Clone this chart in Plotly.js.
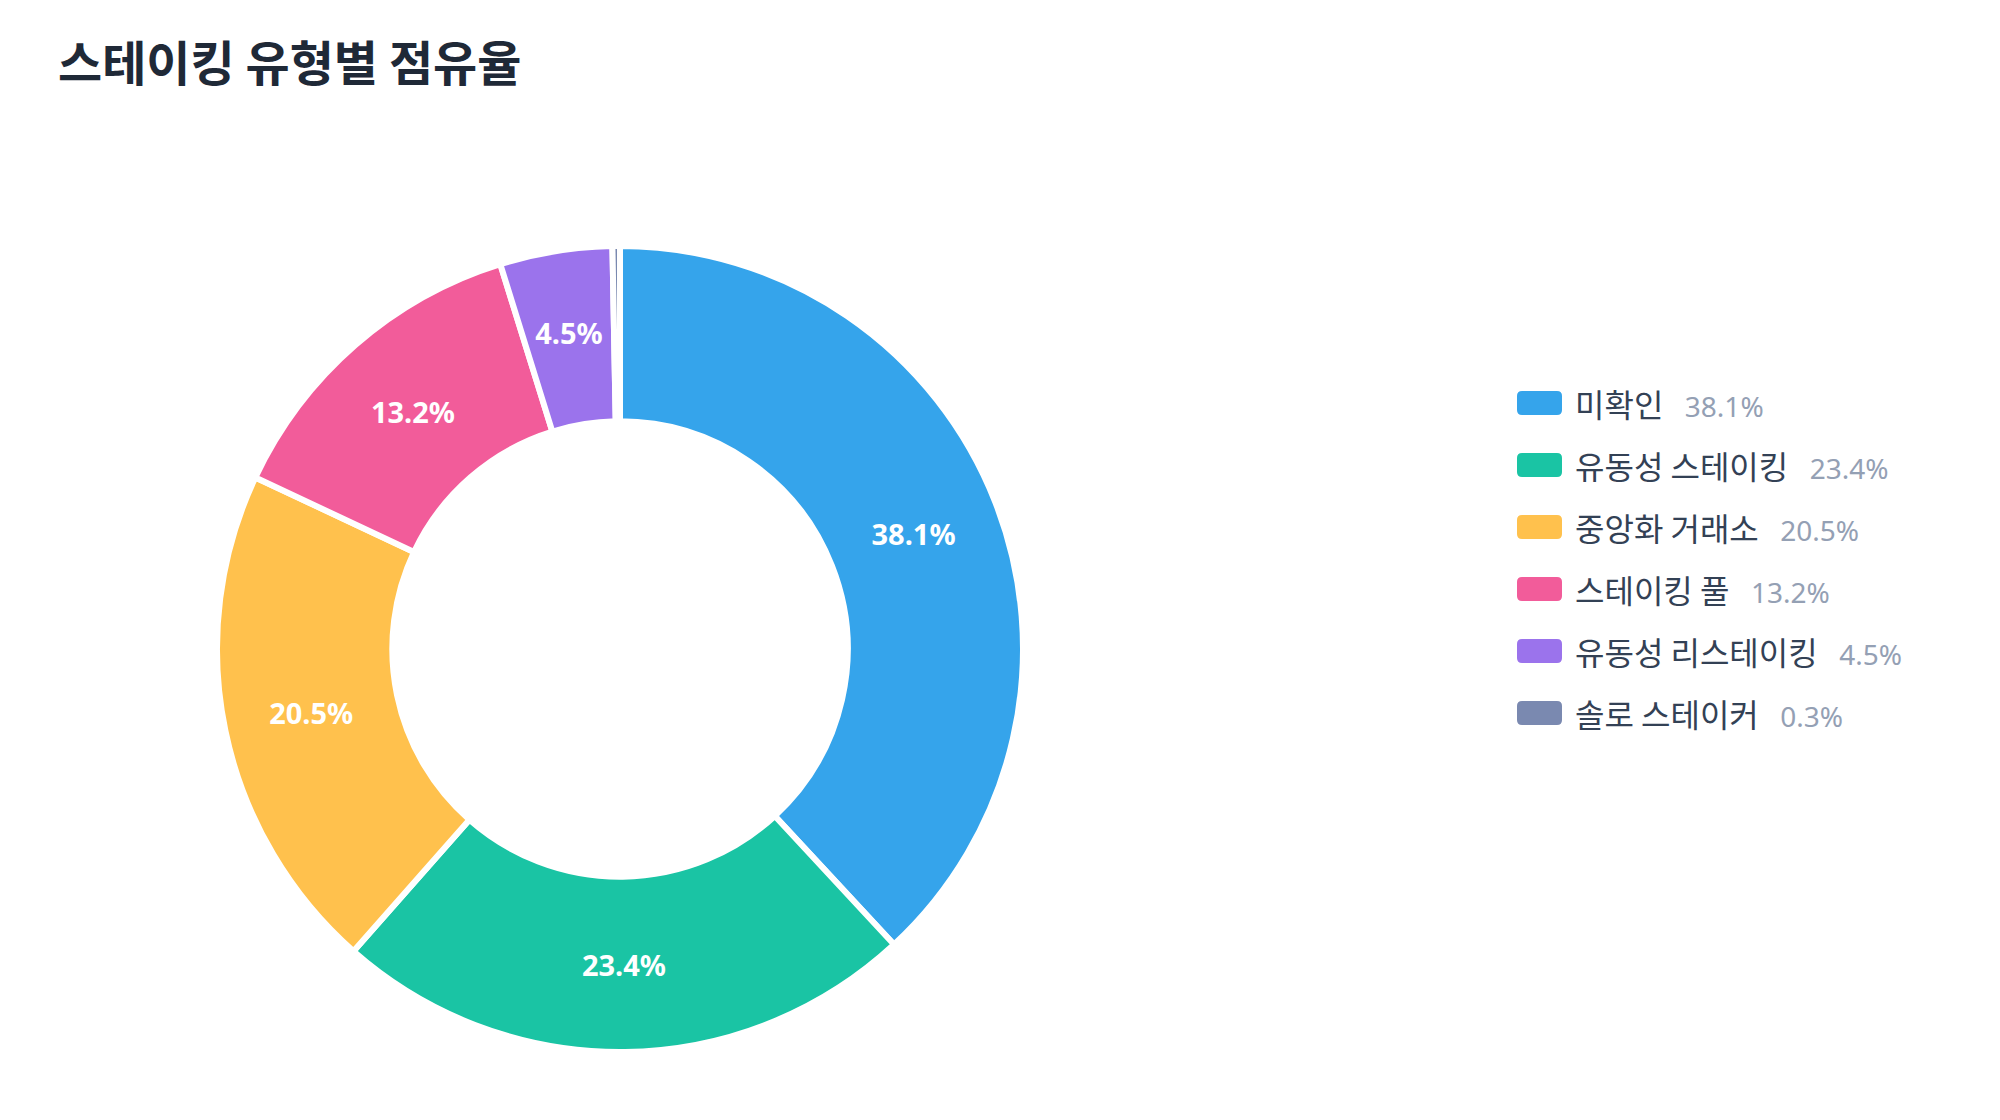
<!DOCTYPE html>
<html>
<head>
<meta charset="utf-8">
<script src="https://cdn.plot.ly/plotly-3.0.1.min.js"></script>
<style>
html,body{margin:0;padding:0;background:#fff;}
#chart{width:2000px;height:1120px;}
</style>
</head>
<body>
<div id="chart"></div>
<script>
// Data
const titleText = '스테이킹 유형별 점유율';
const categories = ['미확인', '유동성 스테이킹', '중앙화 거래소', '스테이킹 풀', '유동성 리스테이킹', '솔로 스테이커'];
const shares = [38.1, 23.4, 20.5, 13.2, 4.5, 0.3];
const colors = ['#35A4EB', '#1AC4A4', '#FFC14D', '#F25C9A', '#9B73EC', '#7A89B0'];

const W = 2000, H = 1120;
const px = x => x / W;
const py = y => 1 - y / H;

// Donut geometry (pixels)
const cx = 620, cy = 649, R = 403, HOLE = 0.565;
const domainFor = r => ({x: [px(cx - r), px(cx + r)], y: [py(cy + r), py(cy - r)]});
const labelFont = {family: 'Noto Sans, "Noto Sans CJK KR", sans-serif', size: 29, color: '#ffffff', weight: 'bold'};
const TPL = '%{value:.1f}%';

// Ring drawn with slice borders (labels of the wide slices)
const ring = {
  type: 'pie',
  labels: categories,
  values: shares,
  sort: false,
  direction: 'clockwise',
  rotation: 0,
  hole: HOLE,
  domain: domainFor(R),
  marker: {colors: colors, line: {color: '#ffffff', width: 6}},
  texttemplate: shares.map(v => v >= 10 ? TPL : ''),
  textposition: 'inside',
  insidetextorientation: 'horizontal',
  textfont: labelFont,
  hoverinfo: 'skip',
  showlegend: false
};

// Transparent thin ring at the middle radius: keeps labels of narrow slices centred in the band
const midR = (1 + HOLE) / 2 * R + 5;
const R2 = 0.86 * R;
const hole2 = 2 * midR / R2 - 1;
const labelsRing = {
  type: 'pie',
  labels: categories,
  values: shares,
  sort: false,
  direction: 'clockwise',
  rotation: 0,
  hole: hole2,
  domain: domainFor(R2),
  marker: {colors: categories.map(() => 'rgba(0,0,0,0)'), line: {width: 0}},
  texttemplate: shares.map(v => (v >= 1 && v < 10) ? TPL : ''),
  textposition: 'inside',
  insidetextorientation: 'horizontal',
  textfont: labelFont,
  hoverinfo: 'skip',
  showlegend: false
};

// Custom legend
const shapes = [];
const annotations = [];
const lgX = 1517, lgY0 = 403, lgStep = 62, swW = 45, swH = 24, rad = 5;
function roundRect(x0, y0, w, h, r) {
  const x1 = x0 + w, y1 = y0 + h;
  const P = (x, y) => px(x) + ',' + py(y);
  return 'M' + P(x0 + r, y0) + ' L' + P(x1 - r, y0) + ' Q' + P(x1, y0) + ' ' + P(x1, y0 + r) +
    ' L' + P(x1, y1 - r) + ' Q' + P(x1, y1) + ' ' + P(x1 - r, y1) +
    ' L' + P(x0 + r, y1) + ' Q' + P(x0, y1) + ' ' + P(x0, y1 - r) +
    ' L' + P(x0, y0 + r) + ' Q' + P(x0, y0) + ' ' + P(x0 + r, y0) + ' Z';
}
categories.forEach((c, i) => {
  const yc = lgY0 + i * lgStep;
  shapes.push({
    type: 'path', xref: 'paper', yref: 'paper',
    path: roundRect(lgX, yc - swH / 2, swW, swH, rad),
    fillcolor: colors[i], line: {width: 0}
  });
  annotations.push({
    xref: 'paper', yref: 'paper', x: px(lgX + swW + 11), y: py(yc),
    xanchor: 'left', yanchor: 'middle', showarrow: false,
    text: c + '\u00a0\u00a0\u00a0<span style="color:#94A0B4;font-size:28px;font-family:Noto Sans, sans-serif">' + shares[i].toFixed(1) + '%</span>',
    font: {family: '"Noto Sans CJK KR", sans-serif', size: 32, color: '#334155'}
  });
});

const layout = {
  width: W, height: H,
  margin: {l: 0, r: 0, t: 0, b: 0},
  paper_bgcolor: '#ffffff',
  title: {
    text: '<b>' + titleText + '</b>',
    xref: 'paper', yref: 'paper', x: px(58), xanchor: 'left', y: py(64), yanchor: 'middle',
    font: {family: '"Noto Sans CJK KR", sans-serif', size: 48, color: '#1F2937'}
  },
  uniformtext: {mode: 'show', minsize: 29},
  shapes: shapes,
  annotations: annotations
};

Plotly.newPlot('chart', [ring, labelsRing], layout, {displayModeBar: false, staticPlot: true});
</script>
</body>
</html>
